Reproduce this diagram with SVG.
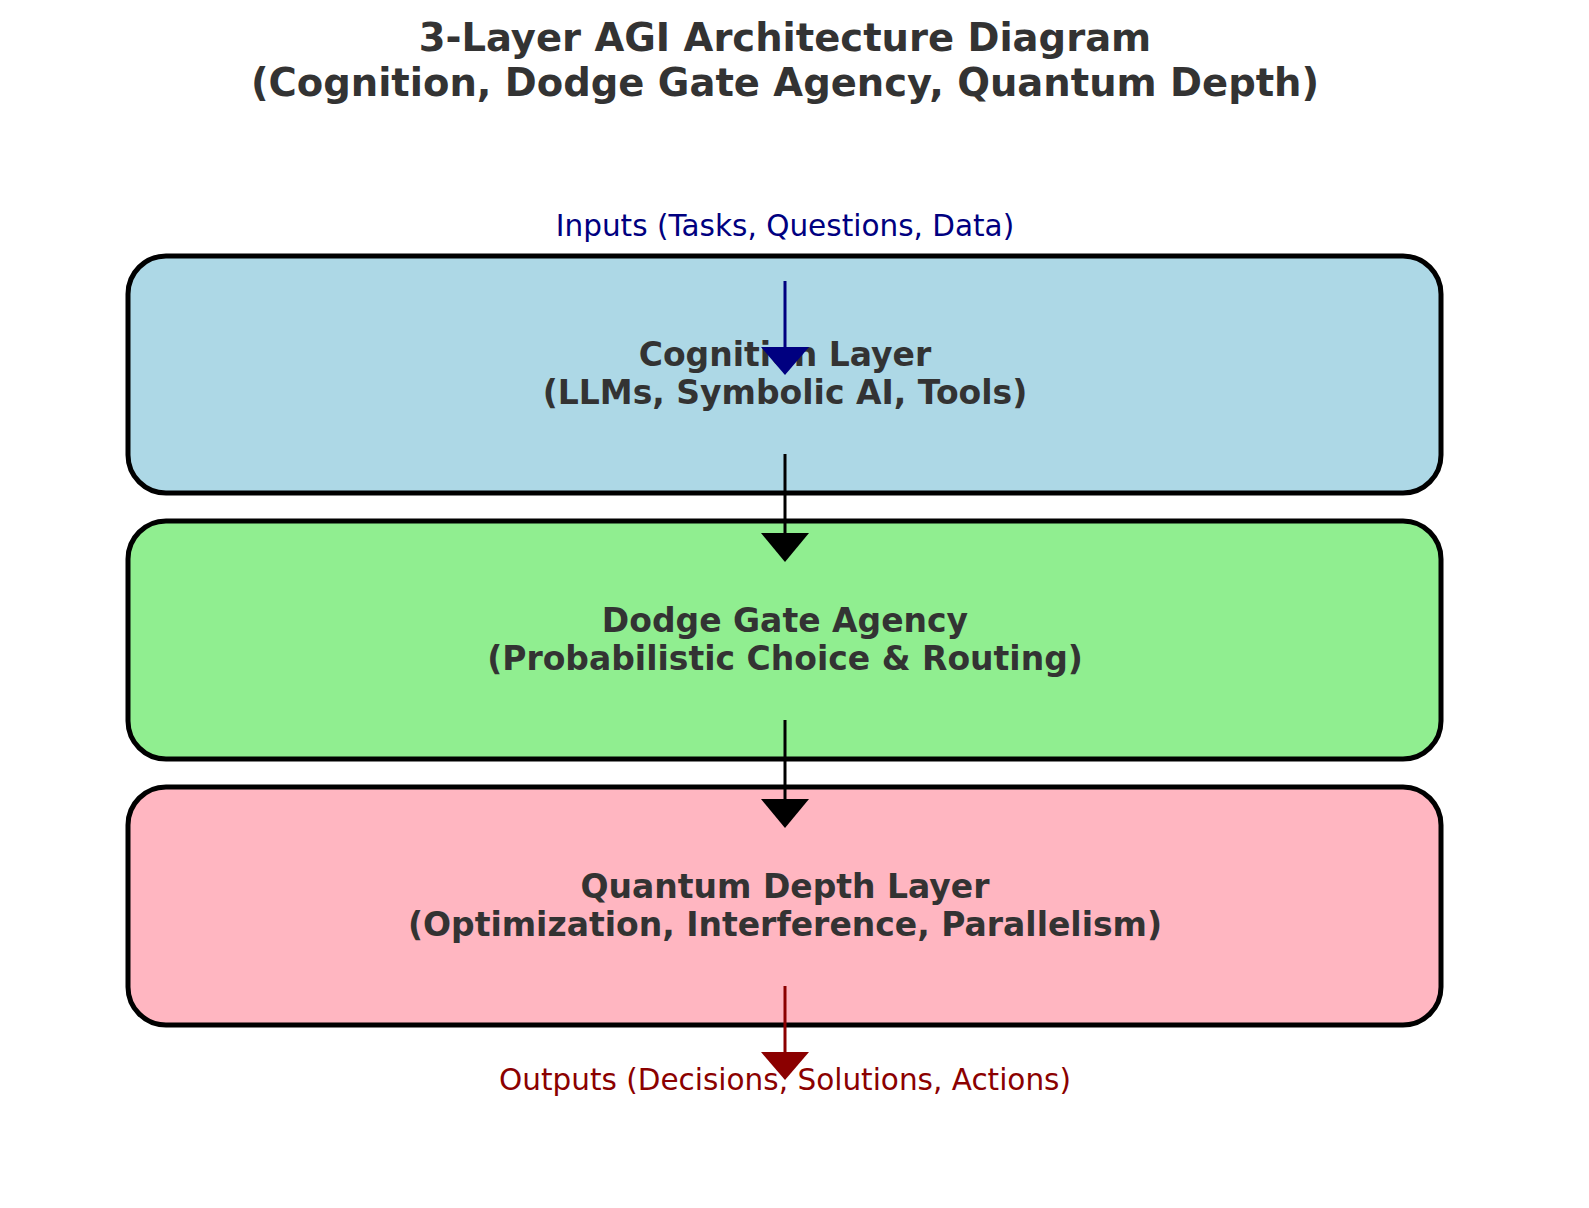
<svg xmlns="http://www.w3.org/2000/svg" width="1589" height="1208" viewBox="0 0 1589 1208">
<style>
.box{stroke:#000;stroke-width:5}
.t{font-family:"DejaVu Sans",sans-serif;font-weight:bold;font-size:33px;fill:#333;text-anchor:middle}
.l{font-family:"DejaVu Sans",sans-serif;font-size:29.5px;text-anchor:middle}
</style>
<rect width="1589" height="1208" fill="#fff"/>
<g id="title"><text class="t" style="font-size:38.5px" x="785" y="51">3-Layer AGI Architecture Diagram</text>
<text class="t" style="font-size:38.5px" x="785" y="96">(Cognition, Dodge Gate Agency, Quantum Depth)</text></g>
<g id="inputs"><text class="l" fill="#000080" x="785" y="236">Inputs (Tasks, Questions, Data)</text></g>
<g id="cognition"><rect class="box" x="128" y="256" width="1313" height="237" rx="38" fill="#add8e6"/>
<text class="t" x="785" y="366">Cognition Layer</text><text class="t" x="785" y="404">(LLMs, Symbolic AI, Tools)</text></g>
<g id="dodge"><rect class="box" x="128" y="521" width="1313" height="238" rx="38" fill="#90ee90"/>
<text class="t" x="785" y="632">Dodge Gate Agency</text><text class="t" x="785" y="670">(Probabilistic Choice &amp; Routing)</text></g>
<g id="quantum"><rect class="box" x="128" y="787" width="1313" height="238" rx="38" fill="#ffb6c1"/>
<text class="t" x="785" y="898">Quantum Depth Layer</text><text class="t" x="785" y="936">(Optimization, Interference, Parallelism)</text></g>
<g id="outputs"><text class="l" fill="#8b0000" x="785" y="1090">Outputs (Decisions, Solutions, Actions)</text></g>
<g id="connectors" stroke-width="3">
<line x1="785" y1="281" x2="785" y2="350" stroke="#000080"/><polygon points="761,347 809,347 785,375" fill="#000080"/>
<line x1="785" y1="454" x2="785" y2="536" stroke="#000"/><polygon points="761,533 809,533 785,562" fill="#000"/>
<line x1="785" y1="720" x2="785" y2="802" stroke="#000"/><polygon points="761,799 809,799 785,828" fill="#000"/>
<line x1="785" y1="986" x2="785" y2="1055" stroke="#8b0000"/><polygon points="761,1052 809,1052 785,1080" fill="#8b0000"/>
</g>
</svg>
